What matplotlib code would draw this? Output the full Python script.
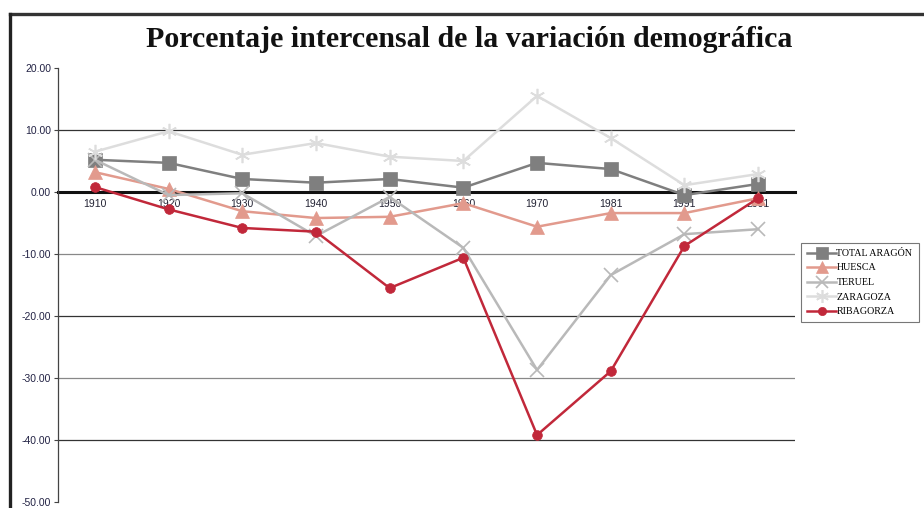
import matplotlib.pyplot as plt
from matplotlib.lines import Line2D

# Data
years = ["1910", "1920", "1930", "1940", "1950", "1960", "1970", "1981", "1991", "2001"]
total_aragon = [5.2, 4.7, 2.1, 1.5, 2.1, 0.7, 4.7, 3.7, -0.5, 1.3]
huesca = [3.2, 0.5, -3.1, -4.2, -4.0, -1.8, -5.6, -3.4, -3.4, -1.0]
teruel = [5.2, -0.5, -0.2, -7.1, -0.8, -9.0, -28.7, -13.4, -6.8, -6.0]
zaragoza = [6.5, 9.8, 6.0, 7.9, 5.7, 5.0, 15.5, 8.7, 1.1, 2.9]
ribagorza = [0.8, -2.8, -5.8, -6.4, -15.5, -10.6, -39.2, -28.9, -8.7, -1.0]

series = [
    ("TOTAL ARAGÓN", total_aragon, "#7f7f7f", "s", 10),
    ("HUESCA", huesca, "#e29a8d", "^", 10),
    ("TERUEL", teruel, "#b9b9b9", "x", 10),
    ("ZARAGOZA", zaragoza, "#dddddd", (6, 2, 0), 11),
    ("RIBAGORZA", ribagorza, "#c1283a", "o", 7),
]

fig = plt.figure(figsize=(9.24, 5.08), dpi=100)
ax = fig.add_axes([58 / 924, 6 / 508, 737 / 924, 434 / 508])

x = list(range(len(years)))
for name, vals, col, mk, ms in series:
    ax.plot(x, vals, color=col, marker=mk, markersize=ms, linewidth=1.8,
            markeredgewidth=1.2 if mk in ("x", (6, 2, 0)) else 0.5,
            markeredgecolor=col, label=name, zorder=3)

ax.set_xlim(-0.5, len(years) - 0.5)
ax.set_ylim(-50, 20)
ax.set_yticks(range(-50, 21, 10))
ax.set_yticklabels([f"{v:.2f}" for v in range(-50, 21, 10)])

# horizontal gridlines alternating tone
for v, c in [(10, "#333333"), (-10, "#888888"), (-20, "#333333"),
             (-30, "#888888"), (-40, "#333333")]:
    ax.axhline(v, color=c, linewidth=0.9, zorder=1)

for s in ["top", "right"]:
    ax.spines[s].set_visible(False)
ax.spines["left"].set_color("#444444")
ax.spines["left"].set_linewidth(0.9)
ax.spines["bottom"].set_position(("data", 0))
ax.spines["bottom"].set_linewidth(2.2)
ax.spines["bottom"].set_color("#111111")
ax.spines["bottom"].set_zorder(2)

ax.set_xticks(x)
ax.set_xticklabels(years)
ax.tick_params(axis="x", length=0, pad=5, labelsize=7.5, labelcolor="#222233")
ax.tick_params(axis="y", length=3, width=0.8, color="#444444", pad=2,
               labelsize=7.5, labelcolor="#222244")
for lbl in ax.get_xticklabels() + ax.get_yticklabels():
    lbl.set_fontfamily("Liberation Sans")

fig.text(0.508, 0.922, "Porcentaje intercensal de la variación demográfica",
         ha="center", va="center", fontsize=21.5, fontweight="bold",
         family="Liberation Serif", color="#111111")

leg = fig.legend(loc="upper left", bbox_to_anchor=(801 / 924, 1 - 243 / 508),
                 prop={"family": "Liberation Serif", "size": 7.2},
                 frameon=True, fancybox=False, edgecolor="#555555",
                 handlelength=2.9, handletextpad=0.05, labelspacing=0.55,
                 borderpad=0.6, borderaxespad=0, markerscale=0.85)
leg.get_frame().set_linewidth(0.8)

# page frame
fig.add_artist(Line2D([10 / 924, 1], [1 - 14 / 508, 1 - 14 / 508],
                      color="#333333", linewidth=2.4))
fig.add_artist(Line2D([10 / 924, 10 / 924], [0, 1 - 14 / 508],
                      color="#222222", linewidth=2.4))

fig.savefig("out.png", dpi=100)
